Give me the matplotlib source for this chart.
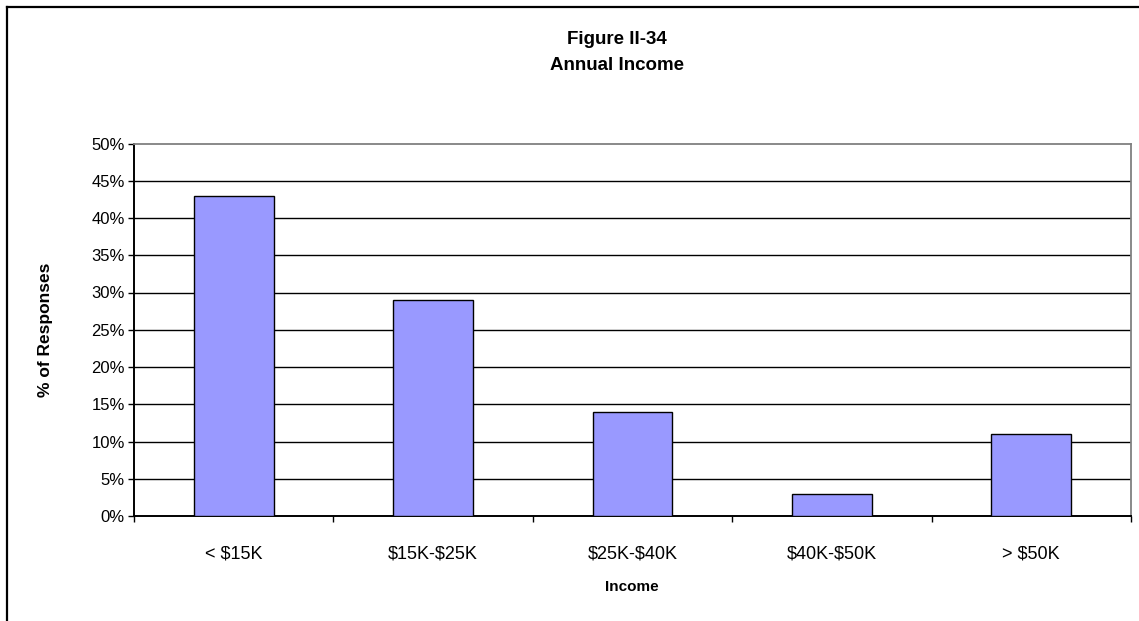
import matplotlib
matplotlib.use("Agg")
import matplotlib.pyplot as plt
from matplotlib.lines import Line2D
from matplotlib.ticker import FixedLocator, PercentFormatter

plt.rcParams['font.family'] = ['Liberation Sans', 'DejaVu Sans']

categories = ["< $15K", "$15K-$25K", "$25K-$40K", "$40K-$50K", "> $50K"]
shares = [43, 29, 14, 3, 11]
y_ticks = [0, 5, 10, 15, 20, 25, 30, 35, 40, 45, 50]

W, H, DPI = 1139, 621, 100
fig = plt.figure(figsize=(W / DPI, H / DPI), dpi=DPI)
fig.patch.set_facecolor("white")

# chart frame (top and left edges)
fig.add_artist(Line2D([7 / W, 1], [1 - 6.5 / H, 1 - 6.5 / H], color="black",
                      lw=1.6, transform=fig.transFigure))
fig.add_artist(Line2D([7 / W, 7 / W], [0, 1 - 6.5 / H], color="black",
                      lw=1.6, transform=fig.transFigure))

left, right, top, bottom = 134, 1131, 143.5, 516
ax = fig.add_axes([left / W, 1 - bottom / H, (right - left) / W, (bottom - top) / H])

x = list(range(len(categories)))
ax.bar(x, shares, width=0.4, color="#9999FF", edgecolor="black", linewidth=1.0, zorder=3)

ax.set_xlim(-0.5, len(categories) - 0.5)
ax.set_ylim(0, 50)
ax.set_yticks(y_ticks)
ax.yaxis.set_major_formatter(PercentFormatter(decimals=0))
for v in y_ticks[1:-1]:
    ax.axhline(v, color="black", lw=1.0, zorder=1)

# escape dollar signs so they are drawn literally
ax.set_xticks(x)
ax.set_xticklabels([c.replace("$", r"\$") for c in categories])
ax.xaxis.set_minor_locator(FixedLocator([i - 0.5 for i in range(len(categories) + 1)]))
ax.tick_params(axis="x", which="major", length=0, pad=21.5, labelsize=13)
ax.tick_params(axis="x", which="minor", length=4.5, width=1.0, direction="out")
ax.tick_params(axis="y", length=4.5, width=1.0, direction="out", pad=2, labelsize=12)

for s in ("left", "bottom"):
    ax.spines[s].set_color("black")
    ax.spines[s].set_linewidth(1.4)
for s in ("top", "right"):
    ax.spines[s].set_color("#808080")
    ax.spines[s].set_linewidth(1.3)

fig.text(617 / W, 1 - 40 / H, "Figure II-34", ha="center", va="center",
         fontsize=13.5, fontweight="bold")
fig.text(617 / W, 1 - 66 / H, "Annual Income", ha="center", va="center",
         fontsize=13.5, fontweight="bold")
fig.text(46 / W, 1 - 330 / H, "% of Responses", ha="center", va="center",
         rotation=90, fontsize=12.5, fontweight="bold")
fig.text(632 / W, 1 - 587 / H, "Income", ha="center", va="center",
         fontsize=11, fontweight="bold")

fig.savefig("out.png", dpi=DPI)
